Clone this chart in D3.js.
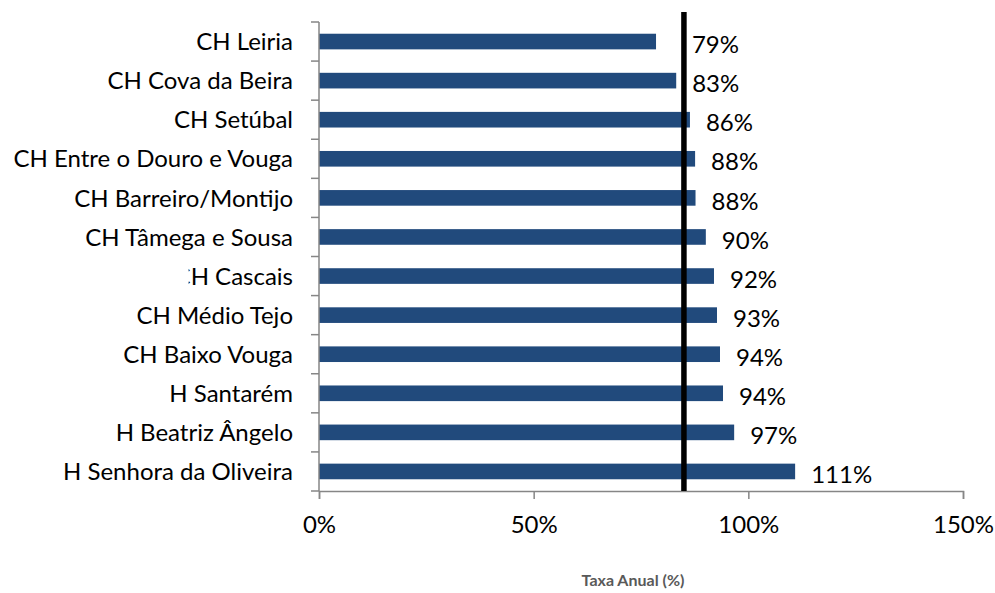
<!DOCTYPE html>
<html>
<head>
<meta charset="utf-8">
<script src="https://cdn.jsdelivr.net/npm/d3@7"></script>
<style>
  body { margin: 0; background: #fff; }
  text { font-family: Lato, "Open Sans", sans-serif; }
</style>
</head>
<body>
<svg id="chart" width="995" height="593"></svg>
<script>
// Hospitals, top to bottom
const categories = [
    'CH Leiria',
    'CH Cova da Beira',
    'CH Setúbal',
    'CH Entre o Douro e Vouga',
    'CH Barreiro/Montijo',
    'CH Tâmega e Sousa',
    'CH Cascais',
    'CH Médio Tejo',
    'CH Baixo Vouga',
    'H Santarém',
    'H Beatriz Ângelo',
    'H Senhora da Oliveira'
];

// Annual rate (%)
const values = [78.5, 83.2, 86.4, 87.6, 87.7, 90.1, 92.0, 92.7, 93.4, 94.1, 96.7, 110.9];

// Shown labels
const valueLabels = ['79%', '83%', '86%', '88%', '88%', '90%', '92%', '93%', '94%', '94%', '97%', '111%'];

// Reference line (%)
const referenceValue = 85;

const xTicks = [0, 50, 100, 150];

let margin = { top: 22, right: 32, bottom: 102, left: 319 };
let svg = d3.select('#chart');
let width = +svg.attr('width') - margin.left - margin.right;
let height = +svg.attr('height') - margin.top - margin.bottom;
let fontSize = 24;

let g = svg.append('g').attr('transform', 'translate(' + margin.left + ',' + margin.top + ')');

let x = d3.scaleLinear().domain([0, 150]).range([0, width]);
let y = d3.scaleBand().domain(categories).range([0, height]).paddingInner(0.6).paddingOuter(0.3);

// bars
g.selectAll('rect.bar')
    .data(values)
    .enter().append('rect')
    .attr('class', 'bar')
    .attr('x', 0)
    .attr('y', (d, i) => y(categories[i]))
    .attr('width', d => x(d))
    .attr('height', y.bandwidth())
    .attr('fill', '#214a7c');

// y axis line + ticks on category boundaries
g.append('line')
    .attr('x1', 0).attr('x2', 0)
    .attr('y1', 0).attr('y2', height)
    .attr('stroke', '#868686').attr('stroke-width', 1.5);
d3.range(categories.length + 1).forEach(i => {
    g.append('line')
        .attr('x1', -8).attr('x2', 0)
        .attr('y1', i * height / categories.length).attr('y2', i * height / categories.length)
        .attr('stroke', '#868686').attr('stroke-width', 1.5);
});

// category labels
let labels = g.selectAll('text.cat')
    .data(categories)
    .enter().append('text')
    .attr('class', 'cat')
    .attr('x', -26)
    .attr('y', d => y(d) + y.bandwidth() / 2)
    .attr('dy', '0.36em')
    .attr('text-anchor', 'end')
    .attr('font-size', fontSize)
    .attr('fill', '#000')
    .text(d => d);

// the first letter of "CH Cascais" is cut off in the original
let cascaisNode = labels.filter(d => d === 'CH Cascais').node();
let cascais = cascaisNode.getBBox();
g.append('rect')
    .attr('x', cascais.x - 2)
    .attr('y', cascais.y)
    .attr('width', cascaisNode.getSubStringLength(0, 1))
    .attr('height', cascais.height)
    .attr('fill', '#fff');

// x axis
let xAxis = g.append('g')
    .attr('transform', 'translate(0,' + height + ')')
    .call(d3.axisBottom(x).tickValues(xTicks).tickSize(8).tickPadding(17).tickFormat(d => d + '%'));
xAxis.select('.domain').attr('stroke', '#868686').attr('stroke-width', 1.5);
xAxis.selectAll('.tick line').attr('stroke', '#868686').attr('stroke-width', 1.5);
xAxis.selectAll('.tick text')
    .attr('font-size', fontSize)
    .attr('font-family', 'Lato, "Open Sans", sans-serif')
    .attr('fill', '#000');

// reference line
g.append('line')
    .attr('x1', x(referenceValue)).attr('x2', x(referenceValue))
    .attr('y1', -10).attr('y2', height)
    .attr('stroke', '#000').attr('stroke-width', 5.5);

// value labels, kept to the right of the reference line
g.selectAll('text.val')
    .data(values)
    .enter().append('text')
    .attr('class', 'val')
    .attr('x', d => Math.max(x(d) + 16, x(referenceValue) + 8))
    .attr('y', (d, i) => y(categories[i]) + y.bandwidth() / 2 + 3)
    .attr('dy', '0.36em')
    .attr('font-size', fontSize)
    .attr('fill', '#000')
    .text((d, i) => valueLabels[i]);

// axis title
svg.append('text')
    .attr('x', 633)
    .attr('y', 586)
    .attr('text-anchor', 'middle')
    .attr('font-size', 16)
    .attr('font-weight', 'bold')
    .attr('fill', '#595959')
    .text('Taxa Anual (%)');
</script>
</body>
</html>
